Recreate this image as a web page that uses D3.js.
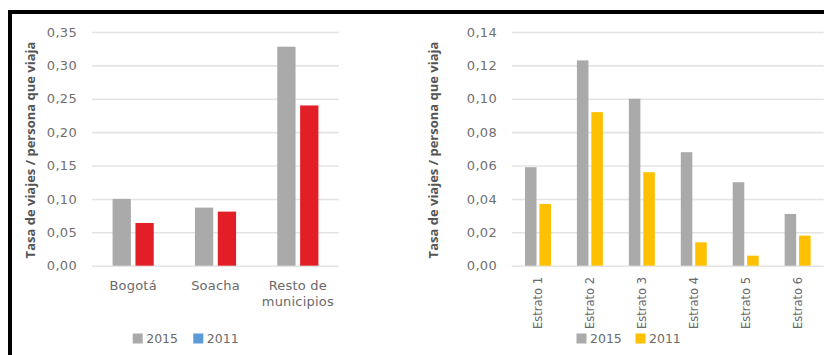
<!DOCTYPE html>
<html>
<head>
<meta charset="utf-8">
<script src="https://cdn.jsdelivr.net/npm/d3@7/dist/d3.min.js"></script>
<style>
  html, body { margin: 0; padding: 0; background: #ffffff; }
  svg { display: block; }
</style>
</head>
<body>
<svg id="chart" width="824" height="355"></svg>
<script>
// Trip rate per traveller, by municipality (left) and by socio-economic stratum (right)
const seriesNames = ["2015", "2011"];

const municipios = ["Bogotá", "Soacha", "Resto de municipios"];
const municipios2015 = [0.100, 0.087, 0.328];
const municipios2011 = [0.064, 0.081, 0.240];
const municipiosTicks = ["0,00", "0,05", "0,10", "0,15", "0,20", "0,25", "0,30", "0,35"];

const estratos = ["Estrato 1", "Estrato 2", "Estrato 3", "Estrato 4", "Estrato 5", "Estrato 6"];
const estratos2015 = [0.059, 0.123, 0.100, 0.068, 0.050, 0.031];
const estratos2011 = [0.037, 0.092, 0.056, 0.014, 0.006, 0.018];
const estratosTicks = ["0,00", "0,02", "0,04", "0,06", "0,08", "0,10", "0,12", "0,14"];

const axisTitle = "Tasa de viajes / persona que viaja";

const GRAY = "#aaaaaa";
const svg = d3.select("#chart");

function parseTick(s) { return +s.replace(",", "."); }

function drawPanel(opts) {
  const g = svg.append("g");
  const ticks = opts.ticks.map(parseTick);
  const y = d3.scaleLinear()
    .domain([0, d3.max(ticks)])
    .range([265.7, 32]);

  const x0 = d3.scaleBand()
    .domain(opts.categories)
    .range(opts.xRange)
    .paddingInner(0.5)
    .paddingOuter(0.25);
  const x1 = d3.scaleBand()
    .domain(seriesNames)
    .range([0, x0.bandwidth()])
    .paddingInner(0.2);

  // gridlines
  const yAxis = d3.axisLeft(y)
    .tickValues(ticks)
    .tickSize(-(opts.xRange[1] - opts.xRange[0]))
    .tickPadding(15)
    .tickFormat((d, i) => opts.ticks[i]);
  const ga = g.append("g")
    .attr("transform", `translate(${opts.xRange[0]},0)`)
    .call(yAxis);
  ga.select(".domain").remove();
  ga.selectAll(".tick line")
    .attr("stroke", "#e4e4e4")
    .attr("stroke-width", 1.6);
  ga.selectAll(".tick text")
    .attr("fill", "#707070")
    .style("font-family", "'DejaVu Sans', sans-serif")
    .style("font-size", "13px")
    .style("letter-spacing", "0.3px");

  // bars
  const rows = opts.categories.map((c, i) => ({
    cat: c,
    vals: [
      { key: "2015", v: opts.v2015[i], color: GRAY },
      { key: "2011", v: opts.v2011[i], color: opts.color2011 }
    ]
  }));
  g.append("g").selectAll("g")
    .data(rows)
    .join("g")
    .attr("transform", d => `translate(${x0(d.cat)},0)`)
    .selectAll("rect")
    .data(d => d.vals)
    .join("rect")
    .attr("x", d => x1(d.key))
    .attr("width", x1.bandwidth())
    .attr("y", d => y(d.v))
    .attr("height", d => y(0) - y(d.v))
    .attr("fill", d => d.color);

  // category labels
  const lab = g.append("g")
    .style("font-family", "'DejaVu Sans', sans-serif")
    .attr("fill", "#6a6a6a");
  if (opts.rotateLabels) {
    lab.selectAll("text")
      .data(opts.categories)
      .join("text")
      .attr("transform", d => `translate(${x0(d) + x0.bandwidth() / 2},277) rotate(-90)`)
      .attr("text-anchor", "end")
      .attr("dy", "0.36em")
      .style("font-size", "11.5px")
      .text(d => d);
  } else {
    const t = lab.selectAll("text")
      .data(opts.categories)
      .join("text")
      .attr("x", d => x0(d) + x0.bandwidth() / 2)
      .attr("y", 290)
      .attr("text-anchor", "middle")
      .style("font-size", "13px")
      .style("letter-spacing", "0.2px");
    t.each(function (d) {
      const words = d.split(" ");
      const lines = words.length > 2
        ? [words.slice(0, 2).join(" "), words.slice(2).join(" ")]
        : [d];
      const sel = d3.select(this);
      lines.forEach((ln, k) => {
        sel.append("tspan")
          .attr("x", x0(d) + x0.bandwidth() / 2)
          .attr("dy", k === 0 ? 0 : 15.5)
          .text(ln);
      });
    });
  }

  // axis title
  g.append("text")
    .attr("transform", `translate(${opts.titleX},150) rotate(-90)`)
    .attr("text-anchor", "middle")
    .attr("dy", "0.35em")
    .attr("fill", "#555555")
    .style("font-family", "'Open Sans', sans-serif")
    .style("font-weight", "700")
    .style("font-size", "13px")
    .text(axisTitle);

  // legend
  const leg = g.append("g")
    .style("font-family", "'DejaVu Sans', sans-serif")
    .style("font-size", "12.5px")
    .attr("fill", "#6a6a6a");
  const legColors = [GRAY, opts.legend2011];
  seriesNames.forEach((name, i) => {
    const lx = opts.legendX[i];
    leg.append("rect")
      .attr("x", lx)
      .attr("y", 333.5)
      .attr("width", 10)
      .attr("height", 10)
      .attr("fill", legColors[i]);
    leg.append("text")
      .attr("x", lx + 13.5)
      .attr("y", 338.5)
      .attr("dy", "0.36em")
      .text(name);
  });
}

drawPanel({
  categories: municipios,
  v2015: municipios2015,
  v2011: municipios2011,
  ticks: municipiosTicks,
  color2011: "#e21f26",
  legend2011: "#5b9bd5",
  xRange: [92, 339],
  rotateLabels: false,
  titleX: 30,
  legendX: [132.7, 193.3]
});

drawPanel({
  categories: estratos,
  v2015: estratos2015,
  v2011: estratos2011,
  ticks: estratosTicks,
  color2011: "#ffc000",
  legend2011: "#ffc000",
  xRange: [512, 823.6],
  rotateLabels: true,
  titleX: 433,
  legendX: [576.5, 635.5]
});

// frame around both panels
svg.append("rect")
  .attr("x", 10)
  .attr("y", 12)
  .attr("width", 900)
  .attr("height", 400)
  .attr("fill", "none")
  .attr("stroke", "#000000")
  .attr("stroke-width", 4);
</script>
</body>
</html>
